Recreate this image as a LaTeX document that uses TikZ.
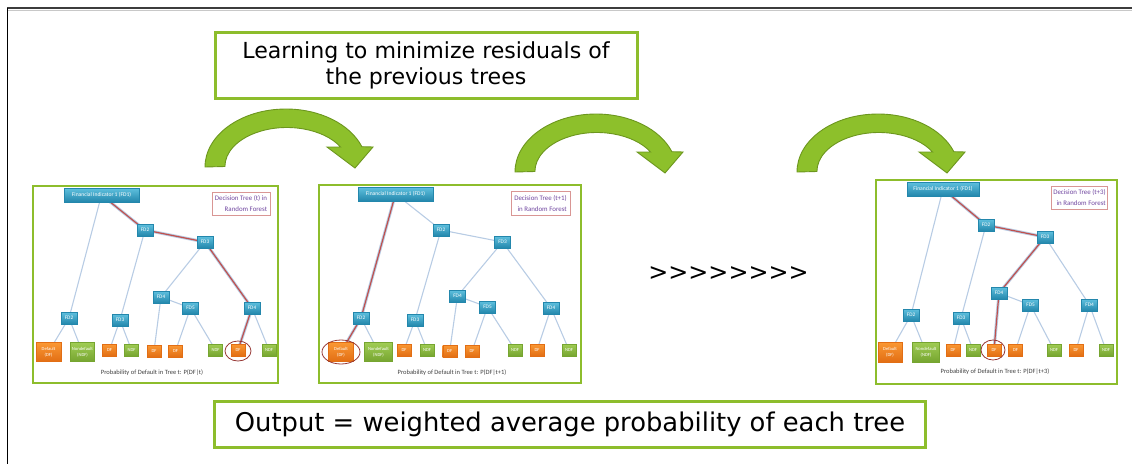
\documentclass[tikz,border=0pt]{standalone}
\usepackage{fontspec}
\setmainfont{DejaVu Sans}
\newfontfamily\dejaplain{DejaVu Sans}[Ligatures=TeXOff]
\newfontfamily\carl{Carlito}
\usetikzlibrary{backgrounds,shapes.geometric}
\definecolor{gborder}{RGB}{141,189,44}
\definecolor{arrowg}{RGB}{141,192,43}
\definecolor{arrowd}{RGB}{108,150,30}
\definecolor{tealtop}{RGB}{95,192,222}
\definecolor{tealbot}{RGB}{35,135,172}
\definecolor{orgtop}{RGB}{250,152,52}
\definecolor{orgbot}{RGB}{226,110,20}
\definecolor{grntop}{RGB}{160,204,84}
\definecolor{grnbot}{RGB}{118,165,48}
\definecolor{edgec}{RGB}{184,204,228}
\definecolor{redc}{RGB}{192,80,77}
\definecolor{redboxc}{RGB}{217,150,148}
\definecolor{purp}{RGB}{112,70,160}
\definecolor{circc}{RGB}{150,55,52}
\definecolor{capc}{RGB}{64,64,64}
\definecolor{framec}{RGB}{60,60,60}
\definecolor{shadowc}{RGB}{200,200,200}
\newcommand\grarrow[2]{%
  \path[garrow] (#1-81,#2) arc[start angle=180,end angle=339.5,x radius=81,y radius=58]
    -- (#1+87,#2-20) -- (#1+69,#2+1) -- (#1+41,#2-20) -- (#1+54.6,#2-20)
    arc[start angle=330,end angle=180,x radius=62,y radius=39] -- cycle;}
\tikzset{
  panelbox/.style={draw=gborder, line width=2.5},
  fdbase/.style={rectangle, inner sep=0pt, text=white, top color=tealtop, bottom color=tealbot, draw=tealbot, line width=0.3},
  fdn/.style={fdbase, minimum width=16pt, minimum height=12pt, font=\carl\fontsize{5.3}{6}\selectfont},
  fdone/.style={fdbase, minimum width=75pt, minimum height=14pt, font=\carl\fontsize{5.6}{6}\selectfont},
  leafo/.style={rectangle, inner sep=0pt, text=white, top color=orgtop, bottom color=orgbot, draw=orgbot, line width=0.3, minimum width=14pt, minimum height=12pt, font=\carl\fontsize{4.6}{6}\selectfont, align=center},
  leafg/.style={rectangle, inner sep=0pt, text=white, top color=grntop, bottom color=grnbot, draw=grnbot, line width=0.3, minimum width=14pt, minimum height=12pt, font=\carl\fontsize{4.6}{6}\selectfont, align=center},
  bigo/.style={leafo, minimum width=25pt, minimum height=19pt},
  bigg/.style={leafg, minimum width=24pt, minimum height=19pt},
  redbox/.style={draw=redboxc, line width=0.7, fill=white, align=right, text=purp, font=\carl\fontsize{6.9}{11}\selectfont, inner sep=1.5pt},
  captxt/.style={text=capc, font=\carl\fontsize{6.5}{7}\selectfont},
  treeedge/.style={draw=edgec, line width=1.1},
  redp/.style={draw=redc, line width=1.2},
  redunder/.style={draw=edgec, line width=3},
  circmark/.style={draw=circc, line width=0.8, ellipse, inner sep=0pt},
  garrow/.style={fill=arrowg, draw=arrowd, line width=0.9},
  textbox/.style={draw=gborder, line width=3, fill=white, inner sep=0pt},
}
\begin{document}
\begin{tikzpicture}[x=1pt,y=-1pt]
\useasboundingbox (0,0) rectangle (1132,464);
% frame
\draw[shadowc, line width=1] (8,10) -- (1132,10);
\draw[framec, line width=1.5] (7,8) -- (1132,8);
\draw[black, line width=1] (7,8) -- (7,464);

% top and bottom text boxes
\node[textbox, minimum width=422pt, minimum height=66pt, font=\fontsize{22.1}{26}\selectfont, align=center] (topbox) at (426,65) {Learning to minimize residuals of\\the previous trees};
\node[textbox, minimum width=711pt, minimum height=46pt, font=\fontsize{25.8}{28}\selectfont] (botbox) at (570,424.5) {Output = weighted average probability of each tree};

% green curved arrows
\grarrow{286}{167}
\grarrow{596}{172}
\grarrow{878}{172}

% dots
\node[font=\dejaplain\fontsize{23.9}{26}\selectfont, inner sep=0pt] (dots) at (728.5,273.5) {>>>>>>>>};

% ================= Panel 1 =================
\draw[panelbox] (33,186) rectangle (278,383);
\node[fdone] (a1) at (101.5,195) {Financial Indicator 1 (FD1)};
\node[redbox, minimum width=58pt, minimum height=23pt] (ar) at (241,203.5) {Decision Tree (t) in\\Random Forest};
\node[fdn] (a2) at (145,230) {FD2};
\node[fdn] (a3) at (205,242) {FD3};
\node[fdn] (a4) at (161,297) {FD4};
\node[fdn] (a5) at (190.5,308) {FD5};
\node[fdn] (a6) at (252,308) {FD4};
\node[fdn] (a7) at (69,318) {FD2};
\node[fdn] (a8) at (120,320) {FD3};
\node[bigo] (aL1) at (48.5,352) {Default\\(DF)};
\node[bigg] (aL2) at (82.5,352) {Nondefault\\(NDF)};
\node[leafo] (aL3) at (109.5,350) {DF};
\node[leafg] (aL4) at (131.5,350) {NDF};
\node[leafo] (aL5) at (154,351) {DF};
\node[leafo] (aL6) at (175.5,351) {DF};
\node[leafg] (aL7) at (215.5,350) {NDF};
\node[leafo] (aL8) at (238,350) {DF};
\node[leafg] (aL9) at (269,350) {NDF};
\node[captxt] (acap) at (152,373) {Probability of Default in Tree t: P(DF|t)};
\node[circmark, minimum width=26pt, minimum height=20pt] (aell) at (238,351) {};

% ================= Panel 2 =================
\draw[panelbox] (319,185) rectangle (581,383);
\node[fdone] (b1) at (395.5,194) {Financial Indicator 1 (FD1)};
\node[redbox, minimum width=59pt, minimum height=24pt] (br) at (540.5,203) {Decision Tree (t+1)\\in Random Forest};
\node[fdn] (b2) at (441,230) {FD2};
\node[fdn] (b3) at (502.5,242) {FD3};
\node[fdn] (b4) at (457.5,296) {FD4};
\node[fdn] (b5) at (487.5,307) {FD5};
\node[fdn] (b6) at (551,308) {FD4};
\node[fdn] (b7) at (361,318) {FD2};
\node[fdn] (b8) at (415,320) {FD3};
\node[bigo] (bL1) at (341,352) {Default\\(DF)};
\node[bigg, minimum width=28pt] (bL2) at (378.5,352) {Nondefault\\(NDF)};
\node[leafo] (bL3) at (404,350) {DF};
\node[leafg] (bL4) at (427,350) {NDF};
\node[leafo] (bL5) at (449.7,351) {DF};
\node[leafo] (bL6) at (472,351) {DF};
\node[leafg] (bL7) at (515,350) {NDF};
\node[leafo] (bL8) at (537,350) {DF};
\node[leafg] (bL9) at (569,350) {NDF};
\node[captxt] (bcap) at (452,373) {Probability of Default in Tree t: P(DF|t+1)};
\node[circmark, minimum width=38pt, minimum height=24pt] (bell) at (341,352) {};

% ================= Panel 3 =================
\draw[panelbox] (876,180) rectangle (1117,384);
\node[fdone, minimum width=72pt] (c1) at (943,189) {Financial Indicator 1 (FD1)};
\node[redbox, minimum width=55pt, minimum height=23pt] (cr) at (1079.5,197.5) {Decision Tree (t+3)\\in Random Forest};
\node[fdn] (c2) at (986,225) {FD2};
\node[fdn] (c3) at (1045,237) {FD3};
\node[fdn] (c4) at (999,293) {FD4};
\node[fdn] (c5) at (1030.5,305) {FD5};
\node[fdn] (c6) at (1089.5,305) {FD4};
\node[fdn] (c7) at (911,315) {FD2};
\node[fdn] (c8) at (961,318) {FD3};
\node[bigo, minimum width=24pt, minimum height=20pt] (cL1) at (890,352) {Default\\(DF)};
\node[bigg, minimum width=27pt, minimum height=20pt] (cL2) at (926,352) {Nondefault\\(NDF)};
\node[leafo] (cL3) at (953,350) {DF};
\node[leafg] (cL4) at (973,350) {NDF};
\node[leafo] (cL5) at (994,350) {DF};
\node[leafo] (cL6) at (1015.5,350) {DF};
\node[leafg] (cL7) at (1054,350) {NDF};
\node[leafo] (cL8) at (1076,350) {DF};
\node[leafg] (cL9) at (1106,350) {NDF};
\node[captxt] (ccap) at (995,372) {Probability of Default in Tree t: P(DF|t+3)};
\node[circmark, minimum width=24pt, minimum height=20pt] (cell) at (993,350) {};

\begin{pgfonlayer}{background}
% panel 1 edges
\foreach \p/\q in {a1/a7, a1/a2, a2/a3, a2/a8, a3/a4, a3/a6, a4/aL5, a4/a5, a5/aL6, a5/aL7, a6/aL8, a6/aL9, a7/aL1, a7/aL2, a8/aL3, a8/aL4}
  \draw[treeedge] (\p.center) -- (\q.center);
\draw[redunder] (a1.center) -- (a2.center) -- (a3.center) -- (a6.center) -- (aL8.center);
\draw[redp] (a1.center) -- (a2.center) -- (a3.center) -- (a6.center) -- (aL8.center);
% panel 2 edges
\foreach \p/\q in {b1/b7, b1/b2, b2/b3, b2/b8, b3/b4, b3/b6, b4/bL5, b4/b5, b5/bL6, b5/bL7, b6/bL8, b6/bL9, b7/bL1, b7/bL2, b8/bL3, b8/bL4}
  \draw[treeedge] (\p.center) -- (\q.center);
\draw[redunder] (b1.center) -- (b7.center) -- (bL1.center);
\draw[redp] (b1.center) -- (b7.center) -- (bL1.center);
% panel 3 edges
\foreach \p/\q in {c1/c7, c1/c2, c2/c3, c2/c8, c3/c4, c3/c6, c4/cL5, c4/c5, c5/cL6, c5/cL7, c6/cL8, c6/cL9, c7/cL1, c7/cL2, c8/cL3, c8/cL4}
  \draw[treeedge] (\p.center) -- (\q.center);
\draw[redunder] (c1.center) -- (c2.center) -- (c3.center) -- (c4.center) -- (cL5.center);
\draw[redp] (c1.center) -- (c2.center) -- (c3.center) -- (c4.center) -- (cL5.center);
\end{pgfonlayer}
\end{tikzpicture}
\end{document}
